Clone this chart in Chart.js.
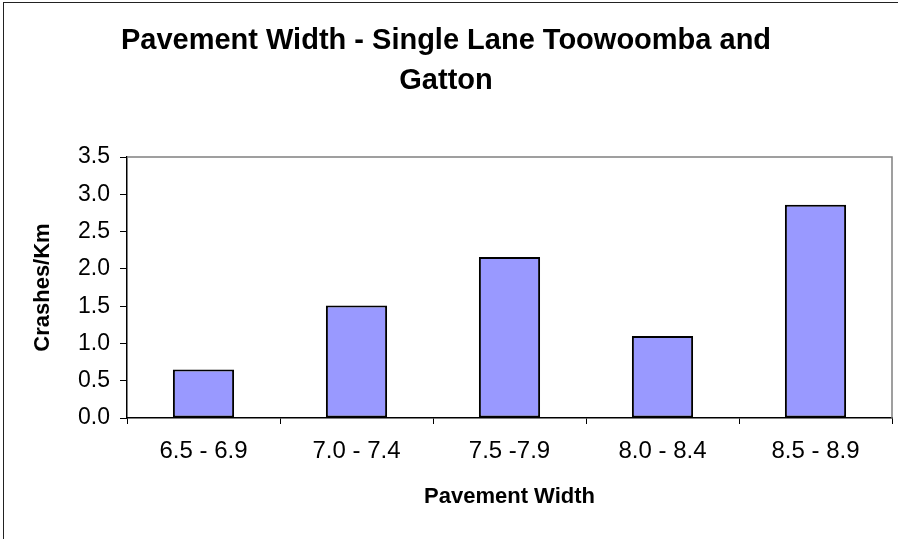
<!DOCTYPE html>
<html>
<head>
<meta charset="utf-8">
<title>Pavement Width - Single Lane Toowoomba and Gatton</title>
<script src="https://cdn.jsdelivr.net/npm/chart.js@4.4.1/dist/chart.umd.min.js"></script>
<style>
  html, body { margin: 0; padding: 0; background: #ffffff; overflow: hidden; }
  #wrap { position: relative; width: 898px; height: 539px; }
  canvas { display: block; }
</style>
</head>
<body>
<div id="wrap"><canvas id="chart" width="898" height="539"></canvas></div>
<script>
// Crash rate per kilometre by pavement width band
const widthBands = ['6.5 - 6.9', '7.0 - 7.4', '7.5 -7.9', '8.0 - 8.4', '8.5 - 8.9'];
const crashesPerKm = [0.65, 1.51, 2.16, 1.10, 2.86];
const yTicks = [0, 0.5, 1.0, 1.5, 2.0, 2.5, 3.0, 3.5];

const chartTitle = ['Pavement Width - Single Lane Toowoomba and', 'Gatton'];
const xTitle = 'Pavement Width';
const yTitle = 'Crashes/Km';

const FONT = '"Liberation Sans", Arial, Helvetica, sans-serif';

// Outer frame of the chart object and the grey top/right edges of the plot area
const framePlugin = {
  id: 'frame',
  beforeDraw(chart) {
    const ctx = chart.ctx;
    ctx.save();
    ctx.fillStyle = '#ffffff';
    ctx.fillRect(0, 0, chart.width, chart.height);
    ctx.strokeStyle = '#222222';
    ctx.lineWidth = 1;
    ctx.strokeRect(3.5, 2.5, chart.width + 20, chart.height + 20);
    ctx.restore();
  },
  afterDatasetsDraw(chart) {
    const { ctx, chartArea: a } = chart;
    ctx.save();
    ctx.strokeStyle = '#808080';
    ctx.lineWidth = 1.5;
    ctx.beginPath();
    ctx.moveTo(a.left, a.top);
    ctx.lineTo(a.right, a.top);
    ctx.lineTo(a.right, a.bottom);
    ctx.stroke();
    ctx.restore();
  }
};

new Chart(document.getElementById('chart'), {
  type: 'bar',
  data: {
    labels: widthBands,
    datasets: [{
      data: crashesPerKm,
      backgroundColor: '#9999FF',
      borderColor: '#000000',
      borderWidth: 2,
      borderSkipped: false,
      barPercentage: 0.4,
      categoryPercentage: 1.0
    }]
  },
  options: {
    responsive: false,
    animation: false,
    devicePixelRatio: 1,
    layout: { padding: { left: 0, right: 6, top: 0, bottom: 0 } },
    plugins: {
      legend: { display: false },
      tooltip: { enabled: false },
      title: {
        display: true,
        text: chartTitle,
        color: '#000000',
        font: { family: FONT, size: 29, weight: 'bold', lineHeight: 1.38 },
        padding: { top: 21, bottom: 56 }
      }
    },
    scales: {
      x: {
        grid: {
          display: true,
          offset: true,
          drawOnChartArea: false,
          drawTicks: true,
          tickLength: 6,
          color: '#000000',
          lineWidth: 1
        },
        border: { display: true, color: '#000000', width: 1.5 },
        ticks: {
          color: '#000000',
          font: { family: FONT, size: 24 },
          padding: 13,
          maxRotation: 0,
          autoSkip: false
        },
        title: {
          display: true,
          text: xTitle,
          color: '#000000',
          font: { family: FONT, size: 22, weight: 'bold' },
          padding: { top: 0, bottom: 29 }
        },
        afterFit(scale) { scale.height = 121; }
      },
      y: {
        min: 0,
        max: 3.5,
        afterBuildTicks(scale) { scale.ticks = yTicks.map(v => ({ value: v })); },
        grid: {
          display: true,
          drawOnChartArea: false,
          drawTicks: true,
          tickLength: 7,
          color: '#000000',
          lineWidth: 1
        },
        border: { display: true, color: '#000000', width: 1.5 },
        ticks: {
          color: '#000000',
          font: { family: FONT, size: 23 },
          padding: 10,
          callback: v => Number(v).toFixed(1)
        },
        title: {
          display: true,
          text: yTitle,
          color: '#000000',
          font: { family: FONT, size: 22, weight: 'bold' },
          padding: { top: 30, bottom: 0 }
        },
        afterFit(scale) { scale.width = 127; }
      }
    }
  },
  plugins: [framePlugin]
});
</script>
</body>
</html>
